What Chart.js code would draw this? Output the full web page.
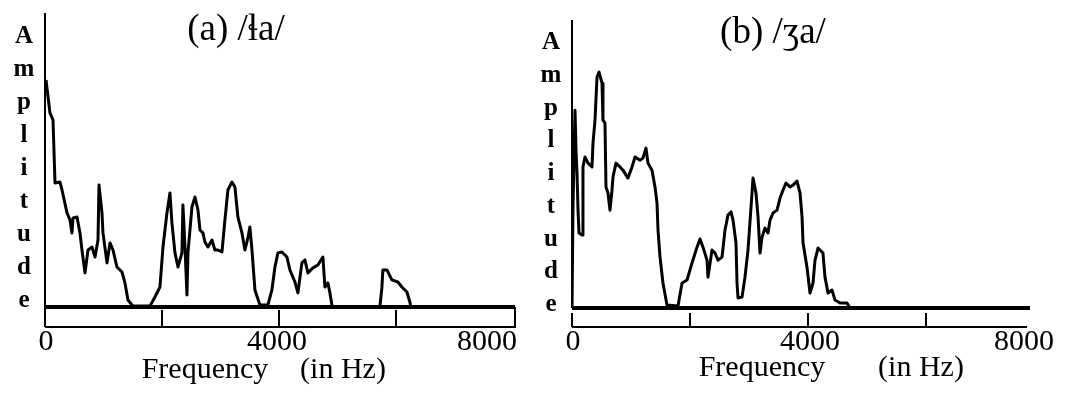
<!DOCTYPE html>
<html>
<head>
<meta charset="utf-8">
<script src="https://cdn.jsdelivr.net/npm/chart.js@4.4.1/dist/chart.umd.min.js"></script>
<style>
  html, body { margin: 0; padding: 0; background: #fff; }
  #wrap { position: relative; width: 1072px; height: 395px; overflow: hidden; }
  .panel { position: absolute; top: 0; width: 536px; height: 395px; }
</style>
</head>
<body>
<div id="wrap">
  <div class="panel" style="left:0"><canvas id="chartA" width="536" height="395"></canvas></div>
  <div class="panel" style="left:536px"><canvas id="chartB" width="536" height="395"></canvas></div>
</div>
<script>
// (a) /ɬa/ : frequency (Hz) and amplitude (arbitrary units)
var freqA = [17, 85, 137, 171, 256, 291, 376, 427, 461, 479, 547, 598, 632, 684, 735, 803, 855, 906, 923, 974,
  991, 1060, 1111, 1162, 1230, 1316, 1367, 1418, 1504, 1794, 1880, 1965, 2017, 2085, 2136, 2170, 2222, 2273, 2341, 2358,
  2393, 2427, 2444, 2512, 2564, 2615, 2649, 2700, 2734, 2786, 2854, 2905, 2957, 3025, 3076, 3127, 3196, 3247, 3298, 3367,
  3418, 3469, 3503, 3538, 3589, 3674, 3811, 3879, 3931, 3982, 4050, 4136, 4187, 4273, 4324, 4392, 4443, 4495, 4580, 4666,
  4751, 4785, 4836, 4871, 4905, 4922, 5725, 5759, 5776, 5845, 5930, 6033, 6101, 6187, 6238, 6255, 8035];
var ampA = [77.2, 66.0, 63.6, 42.2, 42.5, 39.8, 32.0, 29.6, 25.2, 30.3, 30.6, 25.2, 19.4, 11.6, 19.4, 20.4, 17.0, 22.8, 41.5, 32.0,
  25.2, 15.0, 21.8, 19.4, 13.6, 11.9, 8.2, 2.4, 0.3, 0.3, 3.4, 6.8, 20.4, 32.0, 38.8, 28.6, 18.4, 13.6, 18.4, 34.7,
  20.4, 4.1, 18.4, 34.0, 37.4, 33.0, 26.2, 25.2, 22.1, 20.4, 22.8, 19.4, 19.4, 18.7, 29.6, 39.8, 42.5, 40.8, 30.6, 25.2,
  19.4, 23.5, 27.2, 19.4, 5.8, 0.7, 0.7, 5.8, 13.6, 18.4, 18.7, 17.0, 12.6, 8.5, 4.8, 15.0, 16.0, 11.6, 13.3, 14.3,
  17.0, 6.8, 8.2, 4.8, 0.7, 0, 0, 6.5, 12.6, 12.6, 9.2, 8.5, 6.8, 5.1, 1.7, 0, 0];

// (b) /ʒa/
var freqB = [0, 17, 51, 68, 85, 102, 119, 170, 186, 220, 271, 339, 356, 390, 424, 458, 509, 525, 559, 576,
  610, 644, 678, 695, 746, 814, 864, 949, 1017, 1068, 1153, 1203, 1254, 1288, 1356, 1407, 1441, 1458, 1492, 1542,
  1610, 1797, 1865, 1949, 2034, 2119, 2170, 2220, 2288, 2305, 2373, 2424, 2475, 2543, 2593, 2644, 2695, 2729, 2780, 2797,
  2814, 2882, 2932, 2983, 3017, 3051, 3068, 3119, 3153, 3187, 3221, 3271, 3322, 3356, 3407, 3475, 3526, 3576, 3627, 3695,
  3746, 3814, 3865, 3899, 3916, 3983, 4034, 4085, 4119, 4170, 4254, 4288, 4339, 4407, 4458, 4543, 4661, 4712, 7712];
var ampB = [0, 34.4, 67.3, 53.7, 45.9, 33.3, 25.5, 24.8, 48.0, 51.4, 49.3, 48.0, 56.1, 63.9, 78.6, 80.3, 76.5, 63.9, 62.9, 41.2,
  39.1, 33.3, 40.1, 44.6, 49.3, 48.0, 46.9, 44.2, 48.0, 51.4, 50.3, 51.0, 54.4, 49.3, 46.9, 41.2, 35.7, 26.5, 17.3, 8.5,
  1.0, 0.7, 8.5, 9.5, 15.3, 20.7, 23.5, 20.7, 16.3, 10.5, 19.7, 18.7, 16.3, 17.3, 26.5, 31.6, 32.7, 29.9, 22.1, 8.5,
  3.4, 3.7, 10.5, 19.7, 29.3, 39.1, 44.2, 39.1, 31.0, 18.7, 24.1, 27.2, 25.5, 29.9, 32.3, 33.3, 37.4, 40.1, 42.5, 41.2,
  41.8, 43.2, 39.1, 31.0, 22.1, 13.9, 5.1, 8.5, 16.3, 20.4, 18.7, 10.5, 5.1, 6.1, 2.7, 1.7, 1.7, 0, 0];

// axis ranges and tick values
var freqMaxA = 8035, freqMaxB = 7712;
var ampMaxA = 100, ampMaxB = 98;
var rulerTicks = [2000, 4000, 6000];
var freqLabels = [0, 4000, 8000];
var ampLetters = ['A', 'm', 'p', 'l', 'i', 't', 'u', 'd', 'e'];

var SERIF = "'Liberation Serif', 'DejaVu Serif', serif";

// axis line, zero line, ruler and all the lettering
var frame = {
  id: 'frame',
  afterDatasetsDraw: function (chart, args, o) {
    var ctx = chart.ctx, a = chart.chartArea;
    var xs = chart.scales.x, ys = chart.scales.y;
    var y0 = ys.getPixelForValue(0);
    var rb = y0 + o.rulerDepth;
    ctx.save();
    ctx.strokeStyle = '#000';
    ctx.lineWidth = 2;
    ctx.beginPath();
    ctx.moveTo(a.left, a.top);
    ctx.lineTo(a.left, y0);
    ctx.stroke();

    ctx.lineWidth = 4;
    ctx.beginPath();
    ctx.moveTo(a.left, y0);
    ctx.lineTo(a.right + o.zeroOver, y0);
    ctx.stroke();

    ctx.lineWidth = 2;
    ctx.beginPath();
    ctx.moveTo(a.left, rb);
    ctx.lineTo(a.right, rb);
    if (o.closedEnds) {
      ctx.moveTo(a.left, y0);
      ctx.lineTo(a.left, rb);
      ctx.moveTo(a.right, y0);
      ctx.lineTo(a.right, rb + 1);
    } else {
      ctx.moveTo(a.left, rb);
      ctx.lineTo(a.left, rb - o.tickLen);
    }
    rulerTicks.forEach(function (v) {
      var px = Math.round(xs.getPixelForValue(v));
      ctx.moveTo(px, rb);
      ctx.lineTo(px, rb - o.tickLen);
    });
    ctx.stroke();
    ctx.restore();
  },
  afterDraw: function (chart, args, o) {
    var ctx = chart.ctx;
    var xs = chart.scales.x;
    ctx.save();
    ctx.fillStyle = '#000';
    ctx.textAlign = 'center';
    ctx.textBaseline = 'alphabetic';

    ctx.font = o.titleSize + 'px ' + SERIF;
    ctx.fillText(o.title, o.titleX, o.titleY);

    ctx.font = 'bold ' + o.letterSize + 'px ' + SERIF;
    ampLetters.forEach(function (ch, i) {
      ctx.fillText(ch, o.letterX, o.letterY + i * o.letterStep);
    });

    ctx.font = o.labelSize + 'px ' + SERIF;
    freqLabels.forEach(function (v, i) {
      ctx.fillText(String(v), xs.getPixelForValue(v) + o.labelShift[i], o.labelY);
    });
    ctx.fillText('Frequency', o.freqX, o.nameY);
    ctx.fillText('(in Hz)', o.unitX, o.nameY);
    ctx.restore();
  }
};

function spectrum(id, freq, amp, freqMax, ampMax, pad, frameOpts) {
  var pts = freq.map(function (f, i) { return { x: f, y: amp[i] }; });
  return new Chart(document.getElementById(id), {
    type: 'line',
    data: {
      datasets: [{
        data: pts,
        borderColor: '#000',
        borderWidth: 3,
        borderJoinStyle: 'round',
        pointRadius: 0,
        tension: 0,
        fill: false
      }]
    },
    options: {
      responsive: false,
      animation: false,
      devicePixelRatio: 1,
      layout: { padding: pad },
      scales: {
        x: { type: 'linear', min: 0, max: freqMax, display: false },
        y: { type: 'linear', min: 0, max: ampMax, display: false }
      },
      plugins: {
        legend: { display: false },
        tooltip: { enabled: false },
        frame: frameOpts
      }
    },
    plugins: [frame]
  });
}

spectrum('chartA', freqA, ampA, freqMaxA, ampMaxA,
  { left: 45, right: 21, top: 13, bottom: 88 },
  {
    title: '(a) /ɬa/', titleSize: 37, titleX: 236, titleY: 40,
    letterSize: 25, letterX: 24, letterY: 43, letterStep: 33,
    labelSize: 30, labelY: 350, labelShift: [1, -2, -26],
    freqX: 205, unitX: 343, nameY: 378,
    rulerDepth: 20, tickLen: 17, closedEnds: true, zeroOver: 0
  });

spectrum('chartB', freqB, ampB, freqMaxB, ampMaxB,
  { left: 36, right: 45, top: 20, bottom: 87 },
  {
    title: '(b) /ʒa/', titleSize: 37, titleX: 237, titleY: 43,
    letterSize: 25, letterX: 15, letterY: 49, letterStep: 32.75,
    labelSize: 30, labelY: 350, labelShift: [1, 2, -20],
    freqX: 226, unitX: 385, nameY: 376,
    rulerDepth: 19, tickLen: 14, closedEnds: false, zeroOver: 3
  });
</script>
</body>
</html>
